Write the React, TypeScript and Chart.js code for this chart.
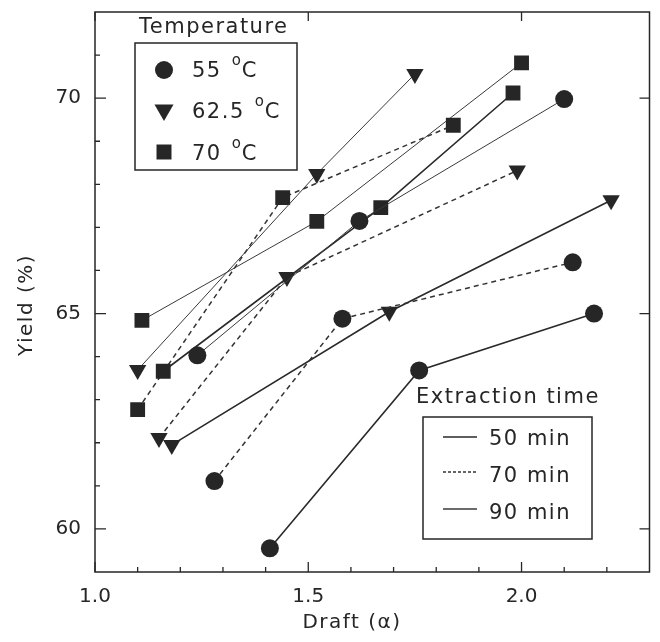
import React, { useEffect, useRef } from 'react';
import { Chart, registerables } from 'chart.js';

Chart.register(...registerables);

// ---- axis ticks ----
const xMajorTicks = [1.0, 1.5, 2.0];
const xMinorTicks = [1.1, 1.2, 1.3, 1.4, 1.6, 1.7, 1.8, 1.9, 2.1, 2.2];
const yMajorTicks = [60, 65, 70];
const yMinorTicks = [61, 62, 63, 64, 66, 67, 68, 69, 71];

// ---- legend labels ----
const tempLabels = ['55', '62.5', '70'];
const timeLabels = ['50 min', '70 min', '90 min'];

// ---- data: draft (x) and yield % (y) ----
// 55 °C
const draft55_50 = [1.41, 1.76, 2.17];
const yield55_50 = [59.55, 63.68, 65.0];
const draft55_70 = [1.28, 1.58, 2.12];
const yield55_70 = [61.11, 64.88, 66.19];
const draft55_90 = [1.24, 1.62, 2.10];
const yield55_90 = [64.03, 67.15, 69.98];
// 62.5 °C
const draft62_50 = [1.18, 1.69, 2.21];
const yield62_50 = [61.95, 65.04, 67.63];
const draft62_70 = [1.15, 1.45, 1.99];
const yield62_70 = [62.11, 65.85, 68.32];
const draft62_90 = [1.10, 1.52, 1.75];
const yield62_90 = [63.69, 68.24, 70.56];
// 70 °C
const draft70_50 = [1.16, 1.67, 1.98];
const yield70_50 = [63.66, 67.46, 70.12];
const draft70_70 = [1.10, 1.44, 1.84];
const yield70_70 = [62.77, 67.69, 69.37];
const draft70_90 = [1.11, 1.52, 2.00];
const yield70_90 = [64.84, 67.14, 70.82];

const INK = '#262626';
const FONT = '"DejaVu Sans", sans-serif';

type Style = { shape: string; time: number };

const timeStyles = [
  { borderWidth: 1.6, borderDash: [] as number[], borderColor: '#2a2a2a' },
  { borderWidth: 1.5, borderDash: [5, 4], borderColor: '#333' },
  { borderWidth: 1.0, borderDash: [] as number[], borderColor: '#3a3a3a' },
];

const shapeStyles: Record<string, any> = {
  circle: { pointStyle: 'circle', pointRadius: 9, pointRotation: 0 },
  triangle: { pointStyle: 'triangle', pointRadius: 10, pointRotation: 180 },
  square: { pointStyle: 'rect', pointRadius: 10.5, pointRotation: 0 },
};

function mk(xs: number[], ys: number[], label: string, st: Style) {
  return {
    label,
    data: xs.map((x, i) => ({ x, y: ys[i] })),
    showLine: true,
    ...timeStyles[st.time],
    ...shapeStyles[st.shape],
    pointBackgroundColor: INK,
    pointBorderColor: INK,
    pointBorderWidth: 0,
  };
}

function zeroPad(s: any) {
  s.paddingTop = 0;
  s.paddingBottom = 0;
  s.paddingLeft = 0;
  s.paddingRight = 0;
}

const framePlugin = {
  id: 'frameTicks',
  afterDraw(chart: any) {
    const { ctx, chartArea: a, scales } = chart;
    const xs = scales.x;
    const ys = scales.y;
    ctx.save();
    ctx.strokeStyle = INK;
    ctx.lineWidth = 1.5;
    ctx.strokeRect(a.left, a.top, a.right - a.left, a.bottom - a.top);
    ctx.lineWidth = 1.3;
    ctx.beginPath();
    xMajorTicks.forEach((v) => {
      const p = xs.getPixelForValue(v);
      ctx.moveTo(p, a.bottom); ctx.lineTo(p, a.bottom - 10);
      ctx.moveTo(p, a.top); ctx.lineTo(p, a.top + 9);
    });
    xMinorTicks.forEach((v) => {
      const p = xs.getPixelForValue(v);
      ctx.moveTo(p, a.bottom); ctx.lineTo(p, a.bottom - 5);
    });
    yMajorTicks.forEach((v) => {
      const p = ys.getPixelForValue(v);
      ctx.moveTo(a.left, p); ctx.lineTo(a.left + 11, p);
      ctx.moveTo(a.right, p); ctx.lineTo(a.right - 10, p);
    });
    yMinorTicks.forEach((v) => {
      const p = ys.getPixelForValue(v);
      ctx.moveTo(a.left, p); ctx.lineTo(a.left + 5, p);
    });
    ctx.stroke();

    // axis titles
    ctx.fillStyle = INK;
    (ctx as any).letterSpacing = '1.5px';
    ctx.font = `20px ${FONT}`;
    ctx.textAlign = 'center';
    ctx.textBaseline = 'alphabetic';
    ctx.fillText('Draft (\u03B1)', 352, 628);
    ctx.save();
    ctx.translate(32, 305);
    ctx.rotate(-Math.PI / 2);
    ctx.fillText('Yield (%)', 0, 0);
    ctx.restore();

    // ---- Temperature legend ----
    ctx.textAlign = 'left';
    ctx.font = `21px ${FONT}`;
    ctx.fillText('Temperature', 139, 33);
    ctx.fillStyle = '#fff';
    ctx.fillRect(135, 43, 162, 127);
    ctx.strokeStyle = INK;
    ctx.lineWidth = 1.5;
    ctx.strokeRect(135, 43, 162, 127);
    const shapes = ['circle', 'triangle', 'square'];
    const rowY = [70, 110, 152];
    const baseY = [77, 118, 160];
    shapes.forEach((s, i) => {
      const cx = 164;
      const cy = rowY[i];
      ctx.fillStyle = INK;
      ctx.beginPath();
      if (s === 'circle') {
        ctx.arc(cx, cy, 9, 0, Math.PI * 2);
      } else if (s === 'triangle') {
        const r = 11;
        ctx.moveTo(cx, cy + r);
        ctx.lineTo(cx - r * Math.sin(Math.PI / 3), cy - r / 2);
        ctx.lineTo(cx + r * Math.sin(Math.PI / 3), cy - r / 2);
        ctx.closePath();
      } else {
        ctx.rect(cx - 7.5, cy - 7.5, 15, 15);
      }
      ctx.fill();
      ctx.font = `21px ${FONT}`;
      const t = tempLabels[i];
      ctx.fillText(t, 192, baseY[i]);
      const w = ctx.measureText(t).width;
      const ox = 192 + w + 10;
      ctx.font = `15px ${FONT}`;
      ctx.fillText('o', ox, baseY[i] - 12);
      ctx.font = `21px ${FONT}`;
      ctx.fillText('C', ox + 10, baseY[i]);
    });

    // ---- Extraction time legend ----
    ctx.fillStyle = INK;
    ctx.font = `21px ${FONT}`;
    ctx.fillText('Extraction time', 416, 403);
    ctx.fillStyle = '#fff';
    ctx.fillRect(423, 417, 169, 122);
    ctx.strokeStyle = INK;
    ctx.lineWidth = 1.5;
    ctx.strokeRect(423, 417, 169, 122);
    const lineY = [437, 472, 509];
    const tBase = [445, 482, 519];
    timeLabels.forEach((lab, i) => {
      const st = timeStyles[i];
      ctx.strokeStyle = st.borderColor;
      ctx.lineWidth = 1.4;
      ctx.setLineDash(i === 1 ? [3, 2] : []);
      ctx.beginPath();
      ctx.moveTo(443, lineY[i]);
      ctx.lineTo(477, lineY[i]);
      ctx.stroke();
      ctx.setLineDash([]);
      ctx.fillStyle = INK;
      ctx.font = `21px ${FONT}`;
      ctx.fillText(lab, 489, tBase[i]);
    });
    ctx.restore();
  },
};

export default function App() {
  const ref = useRef<HTMLCanvasElement | null>(null);
  useEffect(() => {
    if (!ref.current) return;
    const datasets = [
      mk(draft55_50, yield55_50, '55 °C, 50 min', { shape: 'circle', time: 0 }),
      mk(draft55_70, yield55_70, '55 °C, 70 min', { shape: 'circle', time: 1 }),
      mk(draft55_90, yield55_90, '55 °C, 90 min', { shape: 'circle', time: 2 }),
      mk(draft62_50, yield62_50, '62.5 °C, 50 min', { shape: 'triangle', time: 0 }),
      mk(draft62_70, yield62_70, '62.5 °C, 70 min', { shape: 'triangle', time: 1 }),
      mk(draft62_90, yield62_90, '62.5 °C, 90 min', { shape: 'triangle', time: 2 }),
      mk(draft70_50, yield70_50, '70 °C, 50 min', { shape: 'square', time: 0 }),
      mk(draft70_70, yield70_70, '70 °C, 70 min', { shape: 'square', time: 1 }),
      mk(draft70_90, yield70_90, '70 °C, 90 min', { shape: 'square', time: 2 }),
    ];
    const chart = new Chart(ref.current, {
      type: 'scatter',
      data: { datasets } as any,
      options: {
        animation: false,
        responsive: true,
        maintainAspectRatio: false,
        layout: { padding: { top: 12, right: 2, left: 0, bottom: 0 } },
        plugins: { legend: { display: false }, tooltip: { enabled: false } },
        scales: {
          x: {
            type: 'linear',
            min: 1.0,
            max: 2.3,
            grid: { display: false, drawTicks: false },
            border: { display: false },
            ticks: {
              color: INK,
              font: { family: FONT, size: 20 },
              padding: 13,
              callback: (v: any) => Number(v).toFixed(1),
            },
            afterBuildTicks: (s: any) => {
              s.ticks = xMajorTicks.map((v) => ({ value: v }));
            },
            afterFit: (s: any) => {
              s.height = 70;
              zeroPad(s);
            },
          },
          y: {
            type: 'linear',
            min: 59,
            max: 72,
            grid: { display: false, drawTicks: false },
            border: { display: false },
            ticks: {
              color: INK,
              font: { family: FONT, size: 20 },
              padding: 14,
              callback: (v: any) => String(v),
            },
            afterBuildTicks: (s: any) => {
              s.ticks = yMajorTicks.map((v) => ({ value: v }));
            },
            afterFit: (s: any) => {
              s.width = 95;
              zeroPad(s);
            },
          },
        },
      } as any,
      plugins: [framePlugin],
    });
    return () => chart.destroy();
  }, []);
  return (
    <div style={{ position: 'absolute', left: 0, top: 0, width: 660, height: 642, background: '#fff' }}>
      <canvas ref={ref} />
    </div>
  );
}
